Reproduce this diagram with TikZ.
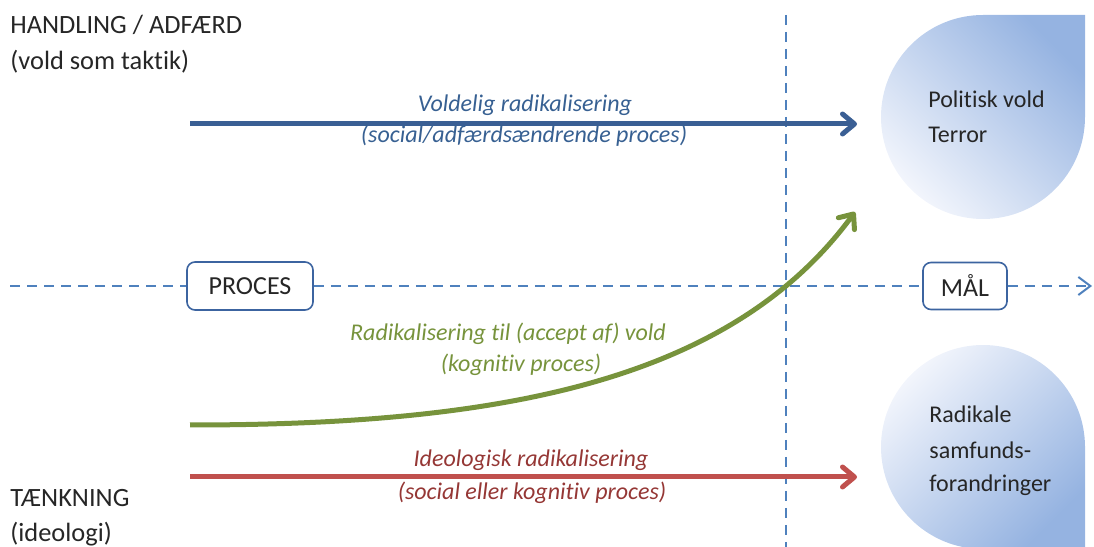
\documentclass[tikz,border=0pt]{standalone}
\usepackage{fontspec}
\setmainfont{Carlito}[Ligatures=NoCommon]
\usetikzlibrary{arrows.meta}
\definecolor{dashblue}{RGB}{79,129,189}
\definecolor{boxblue}{RGB}{60,100,160}
\definecolor{arrblue}{RGB}{58,95,148}
\definecolor{txtblue}{RGB}{55,96,146}
\definecolor{arrgreen}{RGB}{119,147,60}
\definecolor{arrred}{RGB}{192,80,77}
\definecolor{txtred}{RGB}{149,55,53}
\definecolor{txtgray}{RGB}{38,38,38}
\definecolor{dropdark}{RGB}{149,179,225}
\definecolor{droplight}{RGB}{242,245,252}
\begin{document}
\begin{tikzpicture}[x=0.5pt,y=0.5pt,
  dashline/.style={draw=dashblue,line width=1pt,dash pattern=on 5pt off 3.5pt},
  labelbox/.style={draw=boxblue,line width=0.8pt,rounded corners=4pt,fill=white,
    text=txtgray,font=\fontsize{13}{15}\selectfont,inner sep=0pt},
  sidetext/.style={inner sep=0pt,anchor=base west,text=txtgray,font=\fontsize{13.2}{15}\selectfont},
  droptext/.style={inner sep=0pt,anchor=base west,text=txtgray,font=\fontsize{12}{14}\selectfont},
  arrtext/.style={inner sep=0pt,anchor=base,font=\fontsize{12}{14}\selectfont\itshape},
  bigarrow/.style={line width=2.5pt,-{Straight Barb[length=6pt,width=10pt,round]}},
]
\useasboundingbox (0,0) rectangle (1094,547);

% teardrops
\shade[top color=dropdark,bottom color=droplight,shading angle=-45]
  (983,532) -- (1085,532) -- (1085,430) arc[start angle=0,end angle=-270,radius=102] -- cycle;
\shade[top color=droplight,bottom color=dropdark,shading angle=45]
  (1085,101) -- (1085,-2) -- (983,-2) arc[start angle=270,end angle=0,radius=102] -- cycle;

% dashed axes
\coordinate (vtop) at (786,532);
\coordinate (vbot) at (786,0);
\draw[dashline] (vtop) -- (vbot);

\node[labelbox,minimum width=63pt,minimum height=24pt] (proces) at (250,261) {PROCES};
\node[labelbox,minimum width=42pt,minimum height=23.5pt] (mal) at (965,261) {MÅL};
\coordinate (hstart) at (10,261);
\coordinate (hend) at (1092,261);
\draw[dashline] (hstart) -- (proces.west);
\draw[dashline] (proces.east) -- (mal.west);
\draw[dashline,-{Straight Barb[length=6pt,width=9pt]}] (mal.east) -- (hend);

% side labels
\node[sidetext] (hand1) at (10,513) {HANDLING / ADFÆRD};
\node[sidetext] (hand2) at (10,477) {(vold som taktik)};
\node[sidetext] (think1) at (10,40) {TÆNKNING};
\node[sidetext] (think2) at (10,5) {(ideologi)};

% drop labels
\node[droptext] (pol1) at (928,439) {Politisk vold};
\node[droptext] (pol2) at (928,404) {Terror};
\node[droptext] (rad1) at (929,124) {Radikale};
\node[droptext] (rad2) at (929,89) {samfunds-};
\node[droptext] (rad3) at (929,55) {forandringer};

% arrows
\coordinate (bs) at (190,423);
\coordinate (be) at (857,423);
\draw[bigarrow,draw=arrblue] (bs) -- (be);
\coordinate (rs) at (190,70);
\coordinate (re) at (857,70);
\draw[bigarrow,draw=arrred] (rs) -- (re);
\coordinate (gs) at (190,122);
\coordinate (ge) at (855,335);
\draw[bigarrow,draw=arrgreen] (gs) .. controls (500,122) and (730,165) .. (ge);

% arrow labels
\node[arrtext,text=txtblue] (bl1) at (525,435) {Voldelig radikalisering};
\node[arrtext,text=txtblue] (bl2) at (524,404) {(social/adfærdsændrende proces)};
\node[arrtext,text=arrgreen] (gl1) at (508,206) {Radikalisering til (accept af) vold};
\node[arrtext,text=arrgreen] (gl2) at (521,175) {(kognitiv proces)};
\node[arrtext,text=txtred] (rl1) at (531,80) {Ideologisk radikalisering};
\node[arrtext,text=txtred] (rl2) at (532,47) {(social eller kognitiv proces)};
\end{tikzpicture}
\end{document}
